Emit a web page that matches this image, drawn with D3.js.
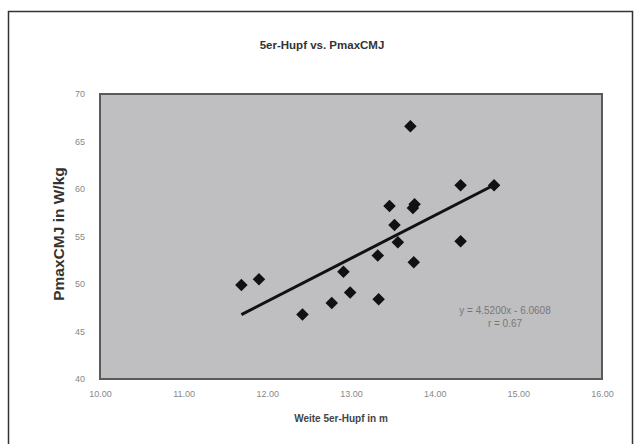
<!DOCTYPE html>
<html><head><meta charset="utf-8">
<script src="https://cdn.jsdelivr.net/npm/d3@7"></script>
<style>body{margin:0;background:#fff}svg{display:block}</style>
</head><body>
<svg id="c" width="640" height="444"></svg>
<script>
const titleText = "5er-Hupf vs. PmaxCMJ";
const xTitle = "Weite 5er-Hupf in m";
const yTitle = "PmaxCMJ in W/kg";
const xTicks = [10, 11, 12, 13, 14, 15, 16];
const yTicks = [40, 45, 50, 55, 60, 65, 70];
const weite = [11.69, 11.90, 12.42, 12.77, 12.91, 12.99, 13.32, 13.33, 13.46, 13.52, 13.56, 13.71, 13.74, 13.76, 13.75, 14.31, 14.31, 14.71];
const pmax  = [49.9, 50.5, 46.8, 48.0, 51.3, 49.1, 53.0, 48.4, 58.2, 56.2, 54.4, 66.6, 58.0, 58.4, 52.3, 60.4, 54.5, 60.4];
const eqLines = ["y = 4.5200x - 6.0608", "r = 0.67"];

const svg = d3.select("#c");
const L = 100, R = 602, T = 94, B = 379;
const x = d3.scaleLinear().domain([10, 16]).range([L, R]);
const y = d3.scaleLinear().domain([40, 70]).range([B, T]);
const FONT = "Liberation Sans, Arial, sans-serif";

// outer frame
svg.append("rect").attr("x", 8.5).attr("y", 11.5).attr("width", 624).attr("height", 440)
  .attr("fill", "#fff").attr("stroke", "#333").attr("stroke-width", 1.5);

// plot area
svg.append("rect").attr("x", L).attr("y", T).attr("width", R - L).attr("height", B - T)
  .attr("fill", "#bfbfc1").attr("stroke", "#5a5a5a").attr("stroke-width", 2);

// axes
const fmtX = d3.format(".2f");
const gx = svg.append("g").attr("transform", `translate(0,${B})`)
  .call(d3.axisBottom(x).tickValues(xTicks).tickFormat(fmtX).tickSize(0).tickPadding(12));
const gy = svg.append("g").attr("transform", `translate(${L},0)`)
  .call(d3.axisLeft(y).tickValues(yTicks).tickSize(0).tickPadding(15));
[gx, gy].forEach(g => {
  g.select(".domain").remove();
  g.selectAll("text").attr("fill", "#888").attr("font-family", FONT).attr("font-size", 9);
});

// regression line from data
const n = weite.length;
const mx = d3.mean(weite), my = d3.mean(pmax);
let sxy = 0, sxx = 0;
for (let i = 0; i < n; i++) { sxy += (weite[i] - mx) * (pmax[i] - my); sxx += (weite[i] - mx) ** 2; }
const slope = sxy / sxx, icpt = my - slope * mx;
const x0 = d3.min(weite), x1 = d3.max(weite);
svg.append("line")
  .attr("x1", x(x0)).attr("y1", y(slope * x0 + icpt))
  .attr("x2", x(x1)).attr("y2", y(slope * x1 + icpt))
  .attr("stroke", "#111").attr("stroke-width", 3);

// points
const diamond = d3.symbol().type(d3.symbolDiamond2).size(100);
svg.append("g").selectAll("path").data(weite).join("path")
  .attr("transform", (d, i) => `translate(${x(d)},${y(pmax[i])})`)
  .attr("d", diamond).attr("fill", "#111");

// equation
svg.append("g").selectAll("text").data(eqLines).join("text")
  .attr("x", 505).attr("y", (d, i) => 314 + i * 13)
  .attr("text-anchor", "middle").attr("fill", "#777")
  .attr("font-family", FONT).attr("font-size", 10)
  .text(d => d);

// titles
svg.append("text").attr("x", 322).attr("y", 49).attr("text-anchor", "middle")
  .attr("font-family", FONT).attr("font-weight", "bold")
  .attr("font-size", 11.5).attr("fill", "#333").text(titleText);
svg.append("text").attr("x", 341).attr("y", 422).attr("text-anchor", "middle")
  .attr("font-family", FONT).attr("font-weight", "bold")
  .attr("font-size", 10).attr("fill", "#444").text(xTitle);
svg.append("text").attr("transform", "translate(64,234) rotate(-90)").attr("text-anchor", "middle")
  .attr("font-family", FONT).attr("font-weight", "bold")
  .attr("font-size", 15.5).attr("fill", "#333").text(yTitle);
</script>
</body></html>
